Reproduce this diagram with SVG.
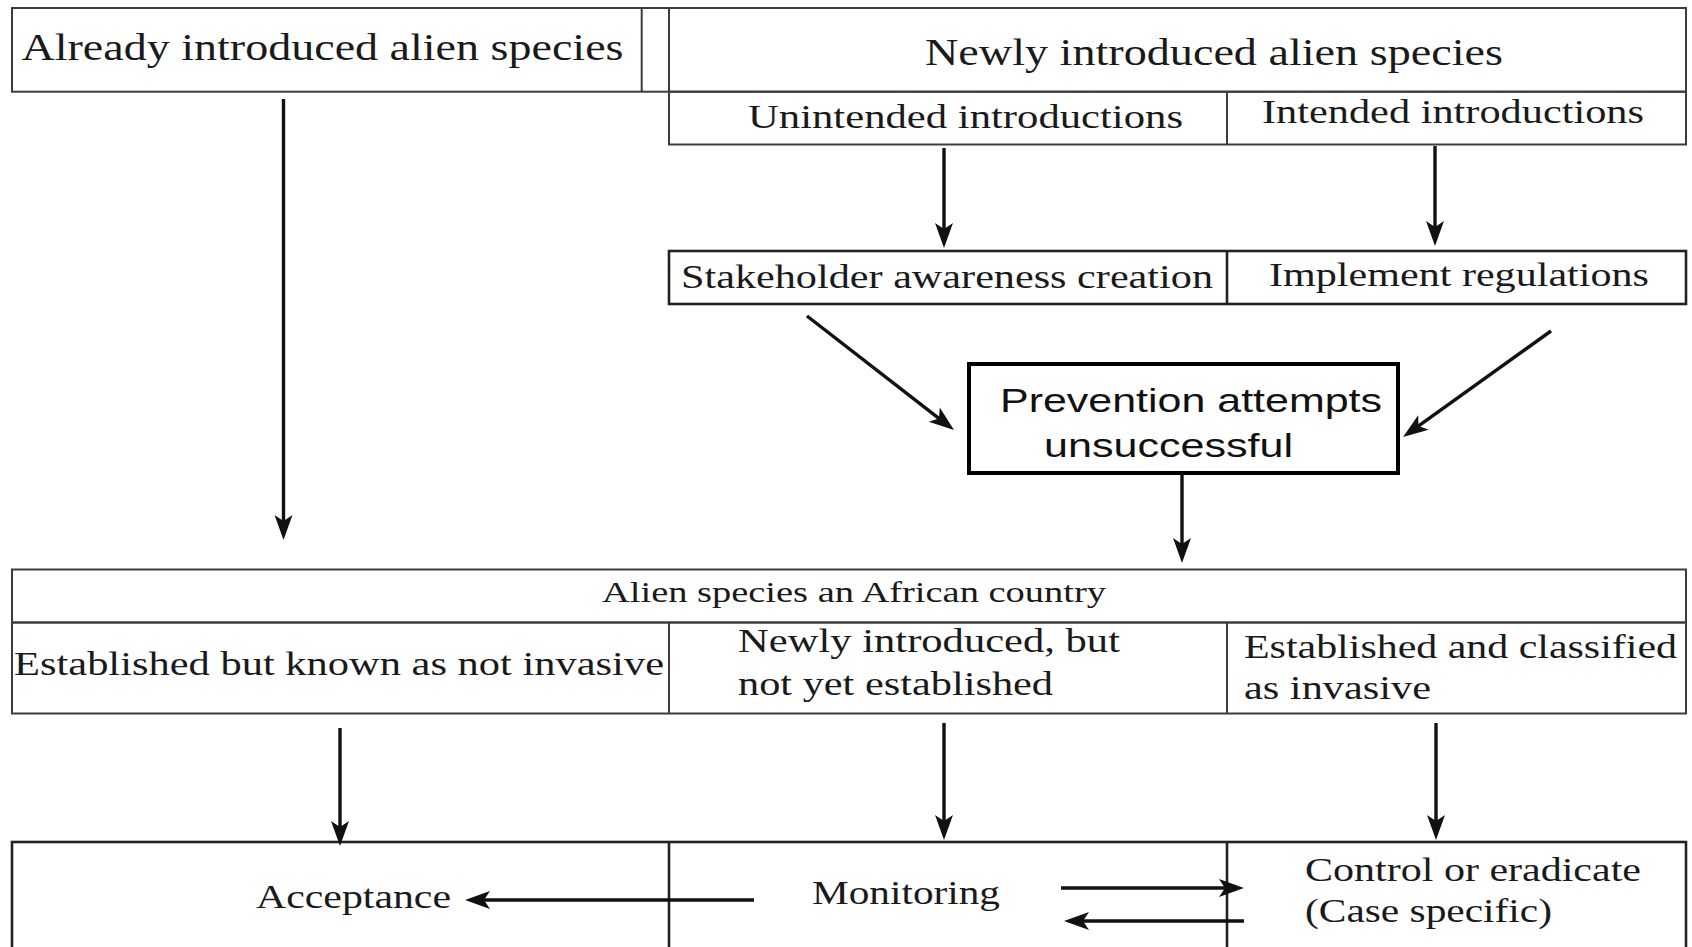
<svg xmlns="http://www.w3.org/2000/svg" width="1692" height="947" viewBox="0 0 1692 947">
<style>
.bx{fill:none;stroke:#3c3c3c;stroke-width:2}
.bx2{fill:none;stroke:#222;stroke-width:2.6}
.pv{fill:#fff;stroke:#000;stroke-width:4}
.t{font-family:"Liberation Serif","Times New Roman",serif;fill:#1a1a1a}
.s{font-family:"Liberation Sans",Arial,sans-serif;fill:#111}
.c{fill:none;stroke:#111;stroke-width:3.4}
</style>
<defs>
<marker id="ah" markerUnits="userSpaceOnUse" markerWidth="26" markerHeight="20" refX="14" refY="10" orient="auto" overflow="visible">
<path d="M0,1 L25,10 L0,19 L6,10 z" fill="#111"/>
</marker>
</defs>
<rect width="1692" height="947" fill="#fff"/>

<g id="top-header">
<rect class="bx" x="12" y="8" width="1674" height="83.7"/>
<line class="bx" x1="641.7" y1="8" x2="641.7" y2="91.7"/>
<line class="bx" x1="669" y1="8" x2="669" y2="91.7"/>
</g>
<g id="already-introduced">
<text class="t" x="21.5" y="59.5" font-size="38" textLength="602" lengthAdjust="spacingAndGlyphs">Already introduced alien species</text>
</g>
<g id="newly-introduced">
<text class="t" x="925" y="64.5" font-size="37" textLength="578" lengthAdjust="spacingAndGlyphs">Newly introduced alien species</text>
</g>
<g id="introductions-row">
<rect class="bx" x="669" y="91.7" width="1017" height="52.8"/>
<line class="bx" x1="1227" y1="91.7" x2="1227" y2="144.5"/>
</g>
<g id="unintended">
<text class="t" x="748" y="127.5" font-size="34" textLength="435" lengthAdjust="spacingAndGlyphs">Unintended introductions</text>
</g>
<g id="intended">
<text class="t" x="1262" y="123" font-size="34" textLength="382" lengthAdjust="spacingAndGlyphs">Intended introductions</text>
</g>
<g id="measures-row">
<rect class="bx2" x="669" y="251" width="1017" height="53"/>
<line class="bx2" x1="1227" y1="251" x2="1227" y2="304"/>
</g>
<g id="stakeholder">
<text class="t" x="681" y="288" font-size="33" textLength="532" lengthAdjust="spacingAndGlyphs">Stakeholder awareness creation</text>
</g>
<g id="regulations">
<text class="t" x="1269" y="286" font-size="33" textLength="380" lengthAdjust="spacingAndGlyphs">Implement regulations</text>
</g>
<g id="prevention">
<rect class="pv" x="969" y="364" width="429" height="109"/>
<text class="s" x="1000" y="412" font-size="34" textLength="382" lengthAdjust="spacingAndGlyphs">Prevention attempts</text>
<text class="s" x="1044" y="457" font-size="34" textLength="249" lengthAdjust="spacingAndGlyphs">unsuccessful</text>
</g>
<g id="alien-country">
<rect class="bx" x="12" y="569.5" width="1674" height="53"/>
<text class="t" x="602" y="602" font-size="29" textLength="504" lengthAdjust="spacingAndGlyphs">Alien species an African country</text>
</g>
<g id="categories-row">
<rect class="bx" x="12" y="622.5" width="1674" height="91"/>
<line class="bx" x1="669" y1="622.5" x2="669" y2="713.5"/>
<line class="bx" x1="1227" y1="622.5" x2="1227" y2="713.5"/>
</g>
<g id="not-invasive">
<text class="t" x="14" y="675" font-size="34" textLength="650" lengthAdjust="spacingAndGlyphs">Established but known as not invasive</text>
</g>
<g id="not-established">
<text class="t" x="738" y="652" font-size="33" textLength="382" lengthAdjust="spacingAndGlyphs">Newly introduced, but</text>
<text class="t" x="738" y="695" font-size="33" textLength="315" lengthAdjust="spacingAndGlyphs">not yet established</text>
</g>
<g id="invasive">
<text class="t" x="1244" y="658" font-size="33" textLength="433" lengthAdjust="spacingAndGlyphs">Established and classified</text>
<text class="t" x="1244" y="699" font-size="33" textLength="187" lengthAdjust="spacingAndGlyphs">as invasive</text>
</g>
<g id="actions-row">
<rect class="bx2" x="12" y="842" width="1674" height="130"/>
<line class="bx2" x1="669" y1="842" x2="669" y2="960"/>
<line class="bx2" x1="1227" y1="842" x2="1227" y2="960"/>
</g>
<g id="acceptance">
<text class="t" x="256" y="908" font-size="33" textLength="195" lengthAdjust="spacingAndGlyphs">Acceptance</text>
</g>
<g id="monitoring">
<text class="t" x="812" y="904" font-size="33" textLength="188" lengthAdjust="spacingAndGlyphs">Monitoring</text>
</g>
<g id="control">
<text class="t" x="1305" y="881" font-size="33" textLength="336" lengthAdjust="spacingAndGlyphs">Control or eradicate</text>
<text class="t" x="1305" y="922" font-size="33" textLength="247" lengthAdjust="spacingAndGlyphs">(Case specific)</text>
</g>

<g id="connectors">
<line class="c" x1="283.5" y1="99" x2="283.5" y2="529" marker-end="url(#ah)"/>
<line class="c" x1="944" y1="148" x2="944" y2="237" marker-end="url(#ah)"/>
<line class="c" x1="1435" y1="146" x2="1435" y2="235" marker-end="url(#ah)"/>
<line class="c" x1="807" y1="316" x2="945.3" y2="423.3" marker-end="url(#ah)"/>
<line class="c" x1="1551" y1="331" x2="1412" y2="430.6" marker-end="url(#ah)"/>
<line class="c" x1="1182" y1="473" x2="1182" y2="552" marker-end="url(#ah)"/>
<line class="c" x1="340" y1="728" x2="340" y2="835" marker-end="url(#ah)"/>
<line class="c" x1="944" y1="723" x2="944" y2="829" marker-end="url(#ah)"/>
<line class="c" x1="1436" y1="723" x2="1436" y2="829" marker-end="url(#ah)"/>
<line class="c" x1="754" y1="900" x2="476" y2="900" marker-end="url(#ah)"/>
<line class="c" x1="1061" y1="888" x2="1233" y2="888" marker-end="url(#ah)"/>
<line class="c" x1="1244" y1="921" x2="1075" y2="921" marker-end="url(#ah)"/>
</g>
</svg>
